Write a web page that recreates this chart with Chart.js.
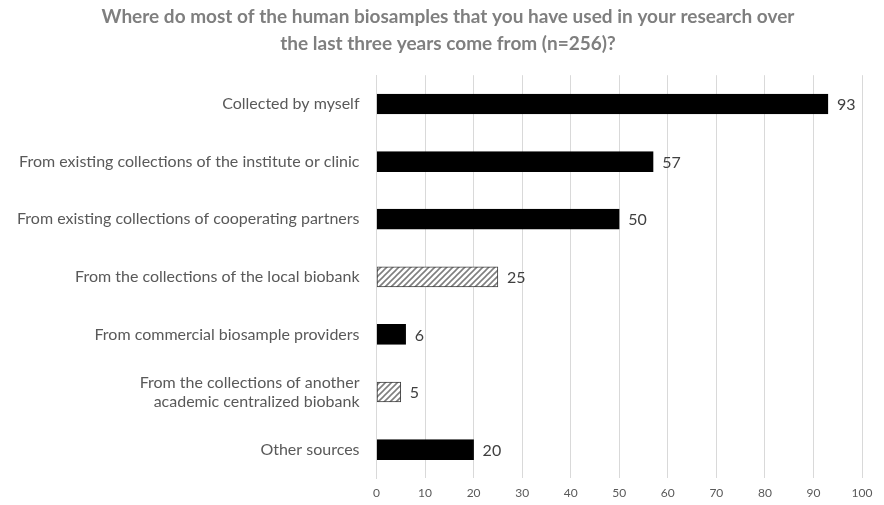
<!DOCTYPE html>
<html>
<head>
<meta charset="utf-8">
<script src="https://cdn.jsdelivr.net/npm/chart.js@4"></script>
<style>
  html, body { margin: 0; padding: 0; background: #fff; }
</style>
</head>
<body>
<canvas id="bar-chart" width="884" height="505"></canvas>
<script>
const categories = [
    "Collected by myself",
    "From existing collections of the institute or clinic",
    "From existing collections of cooperating partners",
    "From the collections of the local biobank",
    "From commercial biosample providers",
    ["From the collections of another", "academic centralized biobank"],
    "Other sources"
];
const counts = [93, 57, 50, 25, 6, 5, 20];
const hatched = [false, false, false, true, false, true, false];
const xTicks = [0, 10, 20, 30, 40, 50, 60, 70, 80, 90, 100];

// diagonal stripe fill for the biobank rows
function makeHatch() {
    const c = document.createElement("canvas");
    c.width = 6; c.height = 6;
    const g = c.getContext("2d");
    g.fillStyle = "#ffffff";
    g.fillRect(0, 0, 6, 6);
    g.strokeStyle = "#7f7f7f";
    g.lineWidth = 1.6;
    g.beginPath();
    g.moveTo(-1, 7); g.lineTo(7, -1);
    g.moveTo(-4, 4); g.lineTo(4, -4);
    g.moveTo(2, 10); g.lineTo(10, 2);
    g.stroke();
    return g.createPattern(c, "repeat");
}
const hatch = makeHatch();

const valueLabels = {
    id: "valueLabels",
    afterDatasetsDraw(chart) {
        const ctx = chart.ctx;
        const meta = chart.getDatasetMeta(0);
        ctx.save();
        ctx.font = "16px Lato";
        ctx.fillStyle = "#404040";
        ctx.textAlign = "left";
        ctx.textBaseline = "middle";
        meta.data.forEach((bar, i) => {
            ctx.fillText(counts[i], bar.x + 9, bar.y + 1);
        });
        ctx.restore();
    }
};

// centre the title over the whole canvas rather than the padded box
const titleShift = {
    id: "titleShift",
    afterLayout(chart) {
        const t = chart.titleBlock;
        if (t) { t.left += 17; t.right += 17; }
    }
};

new Chart(document.getElementById("bar-chart"), {
    type: 'bar',
    data: {
        labels: categories,
        datasets: [{
            data: counts,
            backgroundColor: hatched.map(h => h ? hatch : "#000000"),
            borderColor: hatched.map(h => h ? "#404040" : "#000000"),
            borderWidth: 1,
            borderSkipped: false,
            barThickness: 20
        }]
    },
    plugins: [valueLabels, titleShift],
    options: {
        indexAxis: 'y',
        responsive: false,
        animation: false,
        devicePixelRatio: 1,
        layout: { padding: { left: 0, right: 22, top: 0, bottom: 0 } },
        plugins: {
            legend: { display: false },
            tooltip: { enabled: false },
            title: {
                display: true,
                text: [
                    "Where do most of the human biosamples that you have used in your research over",
                    "the last three years come from (n=256)?"
                ],
                color: "#7f7f7f",
                font: { family: "Lato", size: 19, weight: "bold", lineHeight: 1.4 },
                padding: { top: 4, bottom: 18 }
            }
        },
        scales: {
            x: {
                min: 0,
                max: 100,
                afterBuildTicks(axis) {
                    axis.ticks = xTicks.map(v => ({ value: v }));
                },
                afterFit(axis) {
                    axis.height = 24;
                },
                grid: { color: "#d9d9d9", drawTicks: false },
                border: { display: false },
                ticks: { color: "#595959", font: { family: "Lato", size: 12 }, padding: 8, maxRotation: 0 }
            },
            y: {
                grid: { display: false, drawTicks: false },
                border: { color: "#d9d9d9" },
                ticks: { color: "#595959", font: { family: "Lato", size: 16 }, padding: 17 }
            }
        }
    }
});
</script>
</body>
</html>
